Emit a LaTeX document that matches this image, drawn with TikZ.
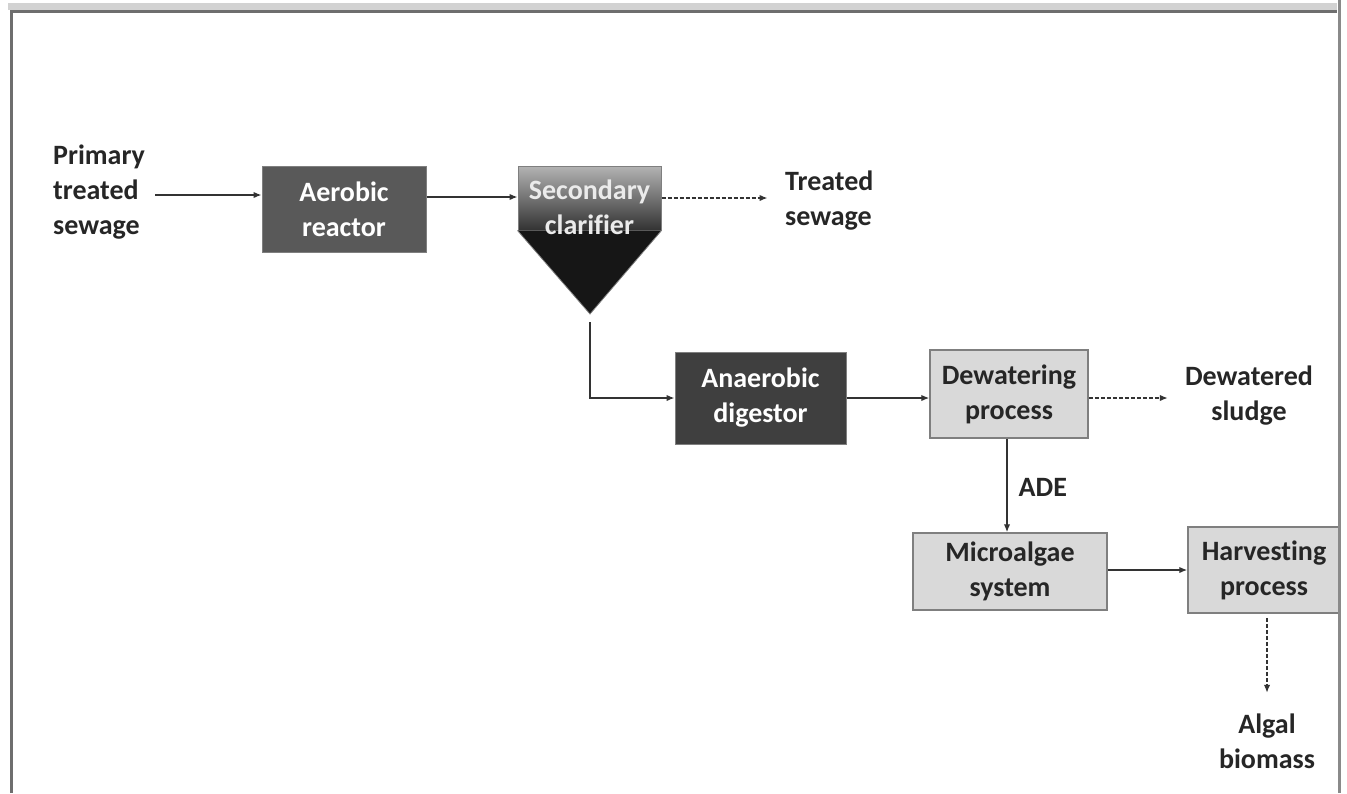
\documentclass[tikz,border=0pt]{standalone}
\usepackage{fontspec}
\setmainfont[Ligatures=NoCommon]{Carlito}
\usetikzlibrary{arrows.meta}
\definecolor{darkbox}{HTML}{595959}
\definecolor{darkerbox}{HTML}{3F3F3F}
\definecolor{lightbox}{HTML}{D9D9D9}
\definecolor{boxline}{HTML}{7F7F7F}
\definecolor{linecol}{HTML}{333333}
\definecolor{framedark}{HTML}{6E6E6E}
\definecolor{framelight}{HTML}{D2D2D2}
\definecolor{frameright}{HTML}{8A8A8A}
\definecolor{coneblack}{HTML}{161616}
\tikzset{
  lbl/.style={font=\fontsize{28}{35}\selectfont\bfseries, text=black!85, inner sep=0pt},
  darkproc/.style={draw=boxline, line width=1pt, fill=darkbox, text=white, font=\fontsize{28}{35}\selectfont\bfseries, align=center, inner sep=0pt},
  lightproc/.style={draw=boxline, line width=1.5pt, fill=lightbox, text=black!85, font=\fontsize{28}{35}\selectfont\bfseries, align=center, inner sep=0pt},
  flow/.style={draw=linecol, line width=1.4pt, -{Latex[length=8pt,width=6.5pt]}},
  dflow/.style={flow, dash pattern=on 4pt off 2pt},
}
\begin{document}
\begin{tikzpicture}[x=1pt,y=-1pt]
\useasboundingbox (0,0) rectangle (1347,793);
% frame
\fill[framelight] (8,3) rectangle (1337,10);
\draw[framedark, line width=3pt] (11,793) -- (11,11.5) -- (1337,11.5);

% labels
\node[lbl, align=left, anchor=west] (prim) at (53,192) {Primary\\treated\\sewage};
\node[lbl, align=left, anchor=west] (treated) at (785,201) {Treated\\sewage};
\node[lbl, align=center] (sludge) at (1249,396) {Dewatered\\sludge};
\node[lbl, align=center] (algal) at (1267,741) {Algal\\biomass};

% boxes
\node[darkproc, minimum width=164pt, minimum height=86pt] (aer) at (344,209) {Aerobic\\reactor};
\node[draw=boxline, line width=1pt, top color=black!30, bottom color=black!80, minimum width=143pt, minimum height=64pt, inner sep=0pt] (clar) at (589.5,198) {};
\fill[coneblack] (clar.south west) -- (clar.south east) -- (590,314) -- cycle;
\draw[boxline, line width=0.8pt] (clar.south west) -- (590,314) -- (clar.south east);
\node[text=white!92!black, font=\fontsize{28}{35}\selectfont\bfseries, align=center, inner sep=0pt] (clartext) at (589.5,207) {Secondary\\clarifier};
\coordinate (tip) at (590,322);
\node[darkproc, fill=darkerbox, minimum width=171pt, minimum height=92pt] (ana) at (760.5,398) {Anaerobic\\digestor};
\node[lightproc, minimum width=158pt, minimum height=88pt] (dew) at (1009,394) {Dewatering\\process};
\node[lightproc, minimum width=194pt, minimum height=77pt] (micro) at (1010,571.5) {Microalgae\\system};
\node[lightproc, minimum width=152pt, minimum height=86pt] (harv) at (1264,570) {Harvesting\\process};

% connectors
\draw[flow] (prim.east |- 0,195) ++(10,0) -- (aer.west |- 0,195);
\draw[flow] (aer.east |- 0,197) -- (clar.west |- 0,197);
\draw[dflow] (clar.east |- 0,198) -- ++(106,0) coordinate (tsend);
\draw[flow] (tip) |- (ana.west);
\draw[flow] (ana.east) -- (dew.west |- ana.east);
\draw[dflow] (dew.east |- 0,398) -- ++(79,0);
\draw[flow] (dew.south -| 1007,0) -- (micro.north -| 1007,0) node[lbl, pos=0.52, anchor=west, xshift=11pt] (ade) {ADE};
\draw[flow] (micro.east |- 0,570) -- (harv.west |- 0,570);
\draw[dflow] (harv.south -| 1267,0) ++(0,4) -- ++(0,75);

% right frame line
\draw[frameright, line width=3pt] (1339,0) -- (1339,793);
\end{tikzpicture}
\end{document}
